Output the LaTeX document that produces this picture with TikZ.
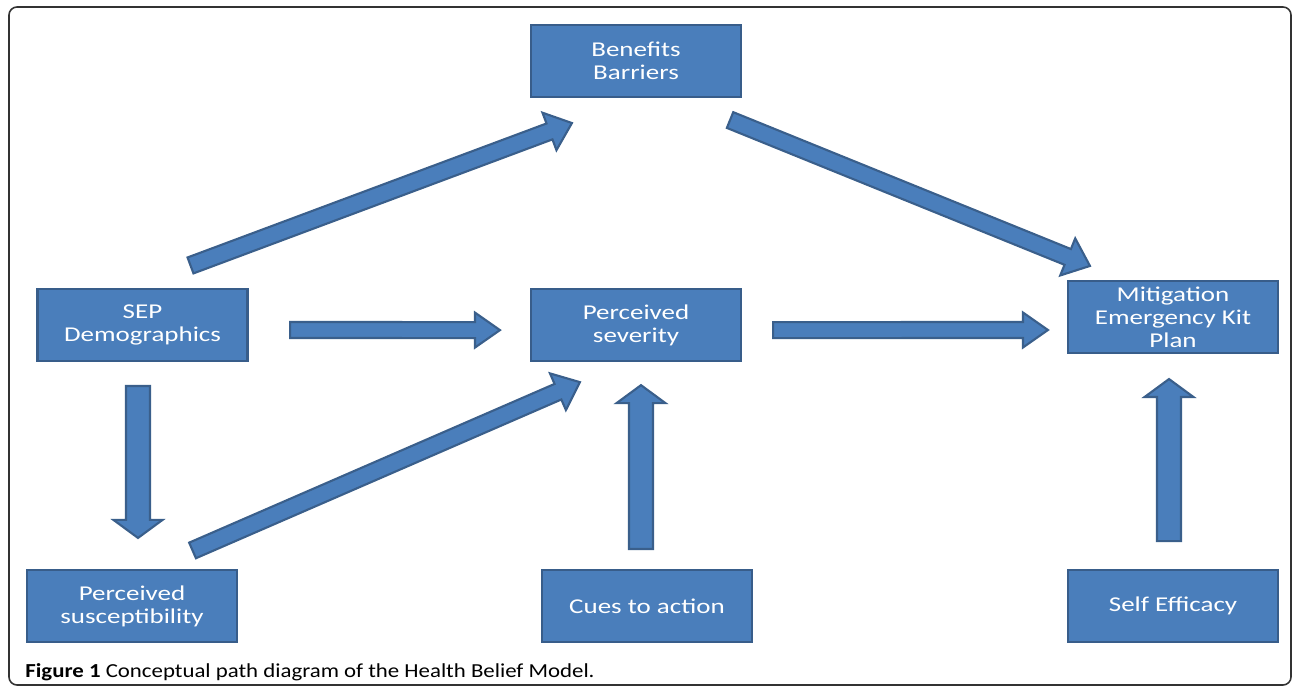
\documentclass[tikz,border=0pt]{standalone}
\usepackage{fontspec}
\setmainfont{Carlito}
\newfontfamily\boxfont{Carlito}[FakeStretch=1.28]
\newfontfamily\capfont{Carlito}[FakeStretch=1.15]
\usepackage{tikz}
\usetikzlibrary{calc,positioning}
\definecolor{boxfill}{HTML}{4A7EBB}
\definecolor{boxline}{HTML}{385D8A}
\definecolor{arrowline}{HTML}{3A5F8B}
\tikzset{
  box/.style={rectangle, draw=boxline, fill=boxfill, line width=1.2pt, text=white, align=center,
    minimum width=4.2cm, minimum height=1.44cm, font=\boxfont\fontsize{12}{13}\selectfont},
  fat/.style n args={3}{draw=arrowline, fill=boxfill, line width=1.2pt, line join=miter,
    to path={let \p1=(\tikztostart), \p2=(\tikztotarget) in
      ($(\p1)!#1!90:(\p2)$)
      -- ($(\p2)!#3!(\p1)!#1!-90:(\p1)$)
      -- ($(\p2)!#3!(\p1)!#2!-90:(\p1)$)
      -- (\p2)
      -- ($(\p2)!#3!(\p1)!#2!90:(\p1)$)
      -- ($(\p2)!#3!(\p1)!#1!90:(\p1)$)
      -- ($(\p1)!#1!-90:(\p2)$) -- cycle}},
  hfat/.style={fat={0.16cm}{0.35cm}{0.5cm}},
  dfat/.style={fat={0.17cm}{0.40cm}{0.48cm}},
  vfat/.style={fat={0.24cm}{0.49cm}{0.36cm}},
  frame/.style={draw=black!80, line width=0.9pt, rounded corners=0.16cm}
}
\begin{document}
\begin{tikzpicture}
  \useasboundingbox (0,0) rectangle (25.84,13.74);
  \draw[frame] (0.18,0.04) rectangle (25.82,13.60);

  \node[box] (benefits) at (12.72,12.52) {Benefits\\Barriers};
  \node[box] (sep) at (2.85,7.24) {SEP\\Demographics};
  \node[box, below=3.80cm of benefits] (severity) {Perceived\\severity};
  \node[box, inner ysep=1pt] (mitigation) at (23.46,7.40) {Mitigation\\Emergency Kit\\Plan};
  \node[box] (susc) at (2.64,1.62) {Perceived\\susceptibility};
  \node[box] (cues) at (12.94,1.62) {Cues to action};
  \node[box, below=4.30cm of mitigation] (selfeff) {Self Efficacy};

  \draw[dfat] ([shift={(0.96,0.45)}]sep.north) to ([shift={(0.84,-0.50)}]benefits.south west);
  \draw[dfat] ([shift={(-0.24,-0.44)}]benefits.south east) to ([shift={(0.46,0.28)}]mitigation.north west);
  \draw[hfat] ([shift={(0.83,-0.10)}]sep.east) to ([shift={(-0.60,-0.10)}]severity.west);
  \draw[hfat] ([shift={(0.62,-0.10)}]severity.east) to ([shift={(-0.38,-0.26)}]mitigation.west);
  \draw[vfat] ([shift={(-0.09,-0.48)}]sep.south) to ([shift={(0.12,0.62)}]susc.north);
  \draw[dfat] ([shift={(-0.91,0.37)}]susc.north east) to ([shift={(1.00,-0.40)}]severity.south west);
  \draw[vfat] ([shift={(-0.12,0.40)}]cues.north) to ([shift={(0.10,-0.46)}]severity.south);
  \draw[vfat] ([shift={(-0.08,0.56)}]selfeff.north) to ([shift={(-0.08,-0.50)}]mitigation.south);

  \node[anchor=base west, font=\capfont\fontsize{11.3}{12}\selectfont, inner sep=0pt] (caption) at (0.50,0.20)
    {\textbf{Figure 1} Conceptual path diagram of the Health Belief Model.};
\end{tikzpicture}
\end{document}
